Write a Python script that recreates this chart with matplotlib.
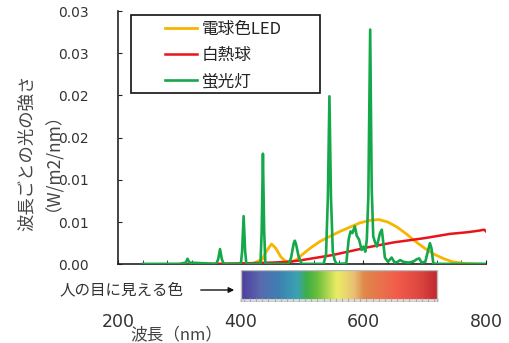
import numpy as np
import matplotlib
matplotlib.use("Agg")
import matplotlib.pyplot as plt
from matplotlib.colors import LinearSegmentedColormap
from matplotlib.patches import Rectangle

plt.rcParams['font.family'] = ['Noto Sans CJK JP', 'DejaVu Sans']

# --- data ---
# 電球色LED
led_nm = [380, 420, 435, 442, 450, 457, 465, 472, 480, 490, 496, 513, 529, 545, 562,
          578, 594, 610, 625, 640, 655, 670, 685, 700, 715, 730, 745, 765, 800]
led_val = [0.0, 0.0001, 0.0006, 0.0016, 0.0024, 0.0019, 0.0009, 0.0004, 0.0003, 0.0005,
           0.0009, 0.0019, 0.0027, 0.0033, 0.0039, 0.0044, 0.0049, 0.0052, 0.0053, 0.0050,
           0.0044, 0.0036, 0.0027, 0.0019, 0.0012, 0.0007, 0.0003, 0.0001, 0.0]

# 白熱球
inc_nm = [240, 300, 350, 400, 450, 480, 500, 550, 594, 606, 650, 700, 741, 770, 790, 797, 800]
inc_val = [0.0, 0.00002, 0.00005, 0.0001, 0.0002, 0.0003, 0.0005, 0.0011, 0.0018, 0.0020,
           0.0026, 0.0031, 0.0036, 0.0038, 0.0040, 0.0041, 0.0039]

# 蛍光灯
fl_nm = [240, 300, 310, 313, 316, 360, 363, 366, 369, 372, 400, 402, 404.5, 407, 409,
         432, 434, 436, 438, 440, 478, 482, 486, 488, 490, 494, 499, 535, 539, 542, 544.5,
         547, 550, 553, 556, 572, 576, 579, 582, 586, 589, 593, 597, 600, 603, 605.5, 608,
         611, 613.5, 616, 619, 622, 627, 630, 632.5, 635, 640, 646, 651, 656, 660, 665, 673,
         681, 687, 691, 695, 701, 705, 708.5, 711, 714, 720, 800]
fl_val = [0.00005, 0.00005, 0.0002, 0.00066, 0.0002, 0.00005, 0.0006, 0.0018, 0.0006,
          0.00005, 0.00005, 0.0015, 0.0057, 0.0015, 0.00005, 0.00005, 0.004, 0.0131, 0.004,
          0.00005, 0.00005, 0.0008, 0.0024, 0.0028, 0.0024, 0.0010, 0.00005, 0.00005, 0.0012,
          0.008, 0.0199, 0.008, 0.0015, 0.0005, 0.00005, 0.0001, 0.0030, 0.0039, 0.0037,
          0.0045, 0.0034, 0.0029, 0.0017, 0.0021, 0.0015, 0.0029, 0.008, 0.0278, 0.009,
          0.0033, 0.0026, 0.0021, 0.0037, 0.0041, 0.0025, 0.0008, 0.0003, 0.0008, 0.0002,
          0.0003, 0.0005, 0.0003, 0.0002, 0.0003, 0.0006, 0.0007, 0.0002, 0.0003, 0.0015,
          0.0025, 0.0019, 0.0001, 0.00005, 0.00005]

series_labels = ['電球色LED', '白熱球', '蛍光灯']
series_colors = ['#f7b500', '#e8141c', '#14a84a']

y_ticks = [0.0, 0.005, 0.01, 0.015, 0.02, 0.025, 0.03]
y_tick_labels = ['0.00', '0.01', '0.01', '0.02', '0.02', '0.03', '0.03']
x_label_ticks = [200, 400, 600, 800]

# visible colour band (nm, colour)
band_nm = [400, 431, 460, 491, 507, 524, 556, 583, 600, 654, 692, 720]
band_col = ['#4f3c9e', '#5a6aae', '#3e7fb2', '#3aa2b2', '#3fae48', '#6cbf3c',
            '#ecec64', '#e8c274', '#e0884a', '#f25c4a', '#dc4640', '#c0282e']

W, H = 509, 343
fig = plt.figure(figsize=(W / 100, H / 100), dpi=100)
ax = fig.add_axes([118.3 / W, 1 - 264.3 / H, 367.7 / W, 253.3 / H])

ax.plot(led_nm, led_val, color=series_colors[0], lw=2.0, label=series_labels[0], zorder=2)
ax.plot(inc_nm, inc_val, color=series_colors[1], lw=1.8, label=series_labels[1], zorder=3)
ax.plot(fl_nm, fl_val, color=series_colors[2], lw=1.9, label=series_labels[2], zorder=4)

ax.set_xlim(200, 800)
ax.set_ylim(0, 0.03)
for s in ['top', 'right']:
    ax.spines[s].set_visible(False)
for s in ['left', 'bottom']:
    ax.spines[s].set_color('#222222')
    ax.spines[s].set_linewidth(1.2)

ax.set_yticks(y_ticks)
ax.set_yticklabels(y_tick_labels, fontsize=10, color='#333333', family='DejaVu Sans')
ax.tick_params(axis='y', direction='in', length=3, pad=21, color='#222222')

ax.set_xticks(x_label_ticks)
ax.set_xticklabels([str(v) for v in x_label_ticks], fontsize=12.5, color='#333333',
                   family='DejaVu Sans')
ax.set_xticks(np.arange(240, 800, 40), minor=True)
ax.tick_params(axis='x', which='both', direction='in', length=3, pad=35, color='#222222')

# legend box
ax.add_patch(Rectangle((0.0345, 0.676), 0.514, 0.308, transform=ax.transAxes,
                       fill=False, edgecolor='#111111', lw=1.2, zorder=5))
ax.legend(loc='upper left', bbox_to_anchor=(0.128, 0.962), frameon=False,
          fontsize=12, handlelength=1.9, handletextpad=0.3, labelspacing=0.55,
          borderpad=0.0, borderaxespad=0.0, labelcolor='#222222')

ax.text(-0.225, 0.44, '波長ごとの光の強さ\n（W/m2/nm）', transform=ax.transAxes,
        rotation=90, fontsize=12.5, color='#444444', ha='center', va='center',
        multialignment='center', linespacing=0.95)

# colour band
bax = fig.add_axes([118.3 / W, 1 - 302 / H, 367.7 / W, 32 / H])
cmap = LinearSegmentedColormap.from_list(
    'band', [((n - band_nm[0]) / (band_nm[-1] - band_nm[0]), c) for n, c in zip(band_nm, band_col)])
bax.imshow(np.linspace(0, 1, 256)[None, :], aspect='auto', cmap=cmap,
           extent=[band_nm[0], band_nm[-1], 0, 1])
bax.add_patch(Rectangle((band_nm[0], 0), band_nm[-1] - band_nm[0], 1, fill=False,
                        edgecolor='#bbbbbb', lw=1.0))
bax.vlines(np.arange(band_nm[0] + 5, band_nm[-1], 10), 0, 0.12, color='#aaaaaa', lw=0.8)
bax.axhline(0.06, xmin=(band_nm[0] - 200) / 600, xmax=(band_nm[-1] - 200) / 600,
            color='#dddddd', lw=2, zorder=0)
bax.set_xlim(200, 800)
bax.set_ylim(0, 1)
bax.axis('off')

fig.text(60 / W, 1 - 290 / H, '人の目に見える色', fontsize=11.2, color='#333333',
         ha='left', va='center')
fig.add_artist(matplotlib.patches.FancyArrowPatch(
    (198 / W, 1 - 290 / H), (237 / W, 1 - 290 / H), transform=fig.transFigure,
    arrowstyle='-|>', mutation_scale=8, color='#111111', lw=1.0))
fig.text(130 / W, 1 - 335 / H, '波長（nm）', fontsize=12, color='#444444',
         ha='left', va='center')

fig.savefig('out.png', dpi=100)
